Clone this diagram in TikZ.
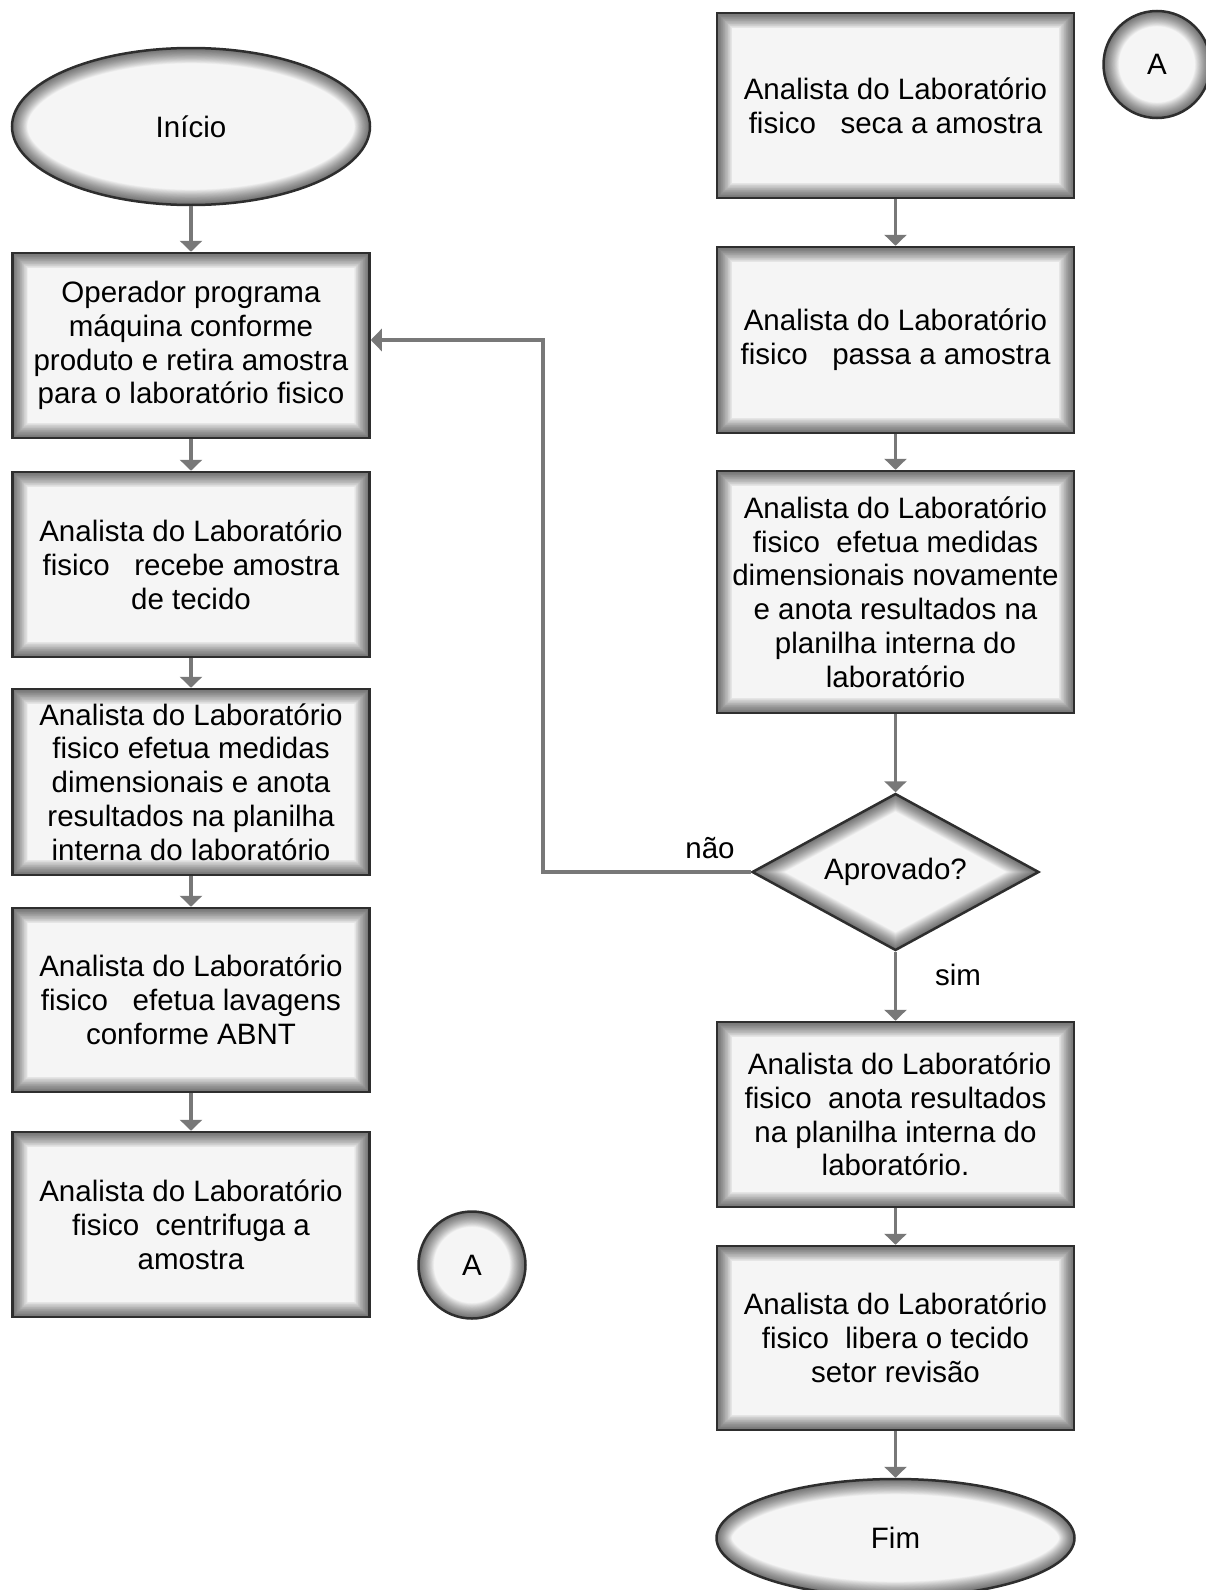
\documentclass[tikz,border=0pt]{standalone}
\usepackage{fontspec}
\setmainfont{Liberation Sans}
\usetikzlibrary{shapes.geometric,arrows.meta,calc}
\definecolor{fillc}{HTML}{F5F5F5}
\definecolor{edgec}{HTML}{2E2E2E}
\definecolor{arrc}{HTML}{787878}
\def\pb{path picture bounding box}
\newcommand\glowlayers[1]{\foreach \i in {1,...,22}{\draw[line width={\i*1.4pt},black,opacity=0.032] #1;}}
\newcommand\ellpath{(\pb.north) .. controls ($(\pb.north)!0.5523!(\pb.north east)$) and ($(\pb.east)!0.5523!(\pb.north east)$) .. (\pb.east)
 .. controls ($(\pb.east)!0.5523!(\pb.south east)$) and ($(\pb.south)!0.5523!(\pb.south east)$) .. (\pb.south)
 .. controls ($(\pb.south)!0.5523!(\pb.south west)$) and ($(\pb.west)!0.5523!(\pb.south west)$) .. (\pb.west)
 .. controls ($(\pb.west)!0.5523!(\pb.north west)$) and ($(\pb.north)!0.5523!(\pb.north west)$) .. (\pb.north) -- cycle}
\tikzset{
  base/.style={draw=edgec, line width=2.5pt, fill=fillc, inner sep=0pt, align=center,
    font=\fontsize{29.5pt}{33.8pt}\selectfont},
  stepbox/.style={base, rectangle, minimum width=357pt,
    path picture={\glowlayers{(\pb.south west) rectangle (\pb.north east)}}},
  terminal/.style={base, ellipse, minimum width=358pt, path picture={\glowlayers{\ellpath}}},
  connector/.style={base, circle, minimum size=107pt, path picture={\glowlayers{\ellpath}}},
  decision/.style={base, diamond, aspect=1.8, minimum width=287pt, minimum height=157pt,
    path picture={\glowlayers{(\pb.north) -- (\pb.east) -- (\pb.south) -- (\pb.west) -- cycle}}},
  arr/.style={draw=arrc, line width=3.8pt, line join=miter, -{Triangle[width=22pt,length=11pt]}},
  lbl/.style={font=\fontsize{29.5pt}{33.8pt}\selectfont, inner sep=0pt, anchor=base}
}
\begin{document}
\begin{tikzpicture}[x=1pt,y=-1pt]
\useasboundingbox (0,0) rectangle (1205,1590);
% left column
\node[terminal, minimum height=157pt] (ini) at (191,126.5) {Início};
\node[stepbox, minimum height=185pt] (b1) at (191,345.5) {Operador programa\\máquina conforme\\produto e retira amostra\\para o laboratório fisico};
\node[stepbox, minimum height=185pt] (b2) at (191,564.5) {Analista do Laboratório\\fisico\ \ \ recebe amostra\\de tecido};
\node[stepbox, minimum height=186pt] (b3) at (191,782) {Analista do Laboratório\\fisico efetua medidas\\dimensionais e anota\\resultados na planilha\\interna do laboratório};
\node[stepbox, minimum height=184pt] (b4) at (191,1000) {Analista do Laboratório\\fisico\ \ \ efetua lavagens\\conforme ABNT};
\node[stepbox, minimum height=185pt] (b5) at (191,1224.5) {Analista do Laboratório\\fisico\ \ centrifuga a\\amostra};
\node[connector] (a1) at (472,1265) {A};
% right column
\node[connector] (a2) at (1157,64.5) {A};
\node[stepbox, minimum height=185pt] (r1) at (895.5,105.5) {Analista do Laboratório\\fisico\ \ \ seca a amostra};
\node[stepbox, minimum height=186pt] (r2) at (895.5,340) {Analista do Laboratório\\fisico\ \ \ passa a amostra};
\node[stepbox, minimum height=242pt] (r3) at (895.5,592) {Analista do Laboratório\\fisico\ \ efetua medidas\\dimensionais novamente\\e anota resultados na\\planilha interna do\\laboratório};
\node[decision] (dec) at (895.5,872) {Aprovado?};
\node[stepbox, minimum height=185pt] (r4) at (895.5,1114.5) {\ Analista do Laboratório\\fisico\ \ anota resultados\\na planilha interna do\\laboratório.};
\node[stepbox, minimum height=184pt] (r5) at (895.5,1338) {Analista do Laboratório\\fisico\ \ libera o tecido\\setor revisão};
\node[terminal, minimum height=118pt] (fim) at (895.5,1538) {Fim};
% connectors
\draw[arr] (ini) -- (b1);
\draw[arr] (b1) -- (b2);
\draw[arr] (b2) -- (b3);
\draw[arr] (b3) -- (b4);
\draw[arr] (b4) -- (b5);
\draw[arr] (r1) -- (r2);
\draw[arr] (r2) -- (r3);
\draw[arr] (r3) -- (dec);
\draw[arr] (dec) -- (r4);
\draw[arr] (r4) -- (r5);
\draw[arr] (r5) -- (fim);
\coordinate (fb) at (543,340);
\draw[arr] (dec.west) -| (fb) -- (b1.east |- fb);
% labels
\node[lbl] (nao) at (710,858) {não};
\node[lbl] (sim) at (958,985) {sim};
\end{tikzpicture}
\end{document}
